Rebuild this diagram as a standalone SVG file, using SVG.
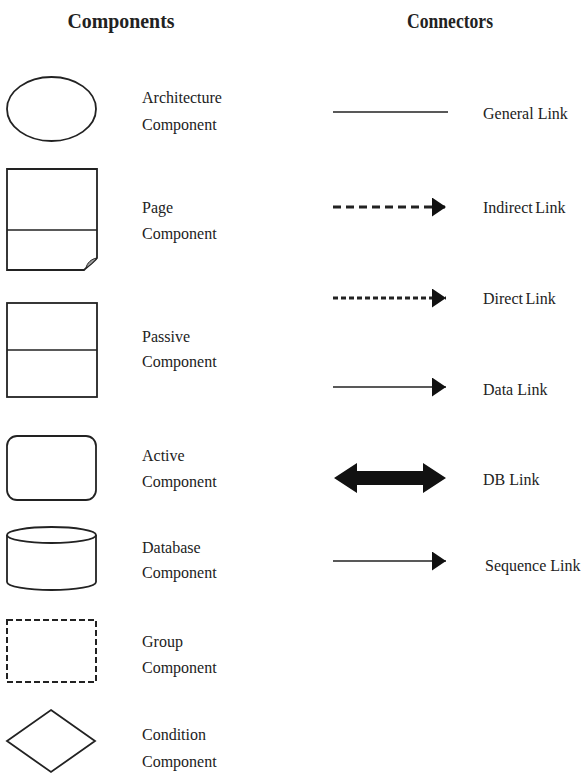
<svg xmlns="http://www.w3.org/2000/svg" width="582" height="774" viewBox="0 0 582 774">
<style>
.t{font-family:"Liberation Serif","Times New Roman",serif;font-size:16px;fill:#222}
.h{font-family:"Liberation Serif","Times New Roman",serif;font-size:21px;font-weight:bold;fill:#222}
.s{fill:#fff;stroke:#222;stroke-width:1.8}
.l{stroke:#222;stroke-width:1.6;fill:none}
</style>
<defs>
<marker id="ah" markerWidth="14" markerHeight="19" refX="14" refY="9.5" orient="auto" markerUnits="userSpaceOnUse">
<path d="M0,0 L14,9.5 L0,19 Z" fill="#111"/>
</marker>
</defs>
<rect width="582" height="774" fill="#fff"/>
<text class="h" x="121" y="28" text-anchor="middle" textLength="107" lengthAdjust="spacingAndGlyphs">Components</text>
<text class="h" x="450" y="28" text-anchor="middle" textLength="86" lengthAdjust="spacingAndGlyphs">Connectors</text>

<g id="architecture">
<ellipse class="s" cx="51.5" cy="109" rx="44.5" ry="32"/>
<text class="t" x="142" y="103">Architecture</text>
<text class="t" x="142" y="130">Component</text>
</g>
<g id="page">
<path class="s" d="M7,169 H97 V258 C93,263 88,266 84,270 H7 Z"/>
<line class="l" x1="7" y1="230" x2="97" y2="230"/>
<path d="M97,258 C91,259 87,263 86,268 C89,266 93,263 97,258 Z" fill="#999" stroke="#222" stroke-width="1"/>
<text class="t" x="142" y="213">Page</text>
<text class="t" x="142" y="239">Component</text>
</g>
<g id="passive">
<rect class="s" x="7" y="303" width="90" height="94"/>
<line class="l" x1="7" y1="350" x2="97" y2="350"/>
<text class="t" x="142" y="342">Passive</text>
<text class="t" x="142" y="367">Component</text>
</g>
<g id="active">
<rect class="s" x="7" y="436" width="89" height="64" rx="10"/>
<text class="t" x="142" y="461">Active</text>
<text class="t" x="142" y="487">Component</text>
</g>
<g id="database">
<path class="s" d="M7,535 V582 A44.5,8 0 0 0 96,582 V535"/>
<ellipse class="s" cx="51.5" cy="535" rx="44.5" ry="8"/>
<text class="t" x="142" y="553">Database</text>
<text class="t" x="142" y="578">Component</text>
</g>
<g id="group">
<rect x="7" y="620" width="89" height="62" fill="none" stroke="#222" stroke-width="2" stroke-dasharray="6,3"/>
<text class="t" x="142" y="647">Group</text>
<text class="t" x="142" y="673">Component</text>
</g>
<g id="condition">
<path class="s" d="M51,710 L95,741 L51,772 L7,741 Z"/>
<text class="t" x="142" y="740">Condition</text>
<text class="t" x="142" y="767">Component</text>
</g>

<g id="connectors">
<line class="l" x1="333" y1="112" x2="448" y2="112"/>
<line x1="333" y1="207" x2="446" y2="207" stroke="#222" stroke-width="3" stroke-dasharray="8,5" marker-end="url(#ah)"/>
<line x1="333" y1="298" x2="446" y2="298" stroke="#222" stroke-width="3" stroke-dasharray="5,3" marker-end="url(#ah)"/>
<line class="l" x1="333" y1="387" x2="446" y2="387" marker-end="url(#ah)"/>
<path d="M334,478 L357,463 L357,471 L423,471 L423,463 L446,478 L423,493 L423,485 L357,485 L357,493 Z" fill="#111"/>
<line class="l" x1="333" y1="561" x2="446" y2="561" marker-end="url(#ah)"/>
</g>
<g id="connector-labels">
<text class="t" x="483" y="119">General Link</text>
<text class="t" x="483" y="213" word-spacing="-1.5">Indirect Link</text>
<text class="t" x="483" y="304" word-spacing="-1.5">Direct Link</text>
<text class="t" x="483" y="395">Data Link</text>
<text class="t" x="483" y="485">DB Link</text>
<text class="t" x="485" y="571">Sequence Link</text>
</g>
</svg>
